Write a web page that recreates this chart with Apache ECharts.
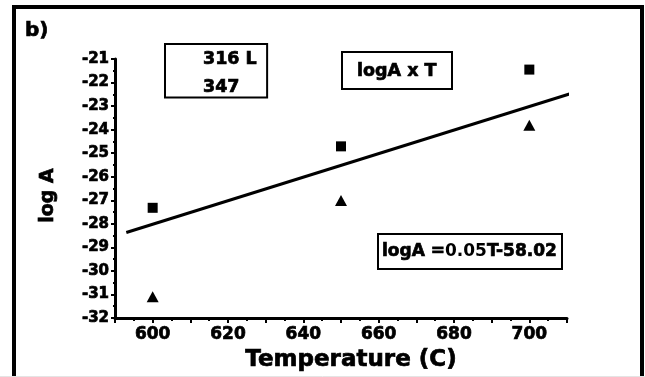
<!DOCTYPE html>
<html>
<head>
<meta charset="utf-8">
<script src="https://cdn.jsdelivr.net/npm/echarts@6/dist/echarts.min.js"></script>
<style>
  html, body { margin: 0; padding: 0; background: #fff; }
  #chart { width: 645px; height: 377px; }
</style>
</head>
<body>
<div id="chart"></div>
<script>
// Temperatures (C) at which the steels were measured
var temperatures = [600, 650, 700];
// log A for each steel grade
var logA316L = [-27.32, -24.71, -21.45];
var logA347 = [-31.10, -27.01, -23.81];
// Linear fit logA = 0.05T - 58.02, drawn between its two end points
var fitT = [593, 711];
var fitLogA = [-28.37, -22.47];
// Tick label values shown on the x axis
var xTickLabels = [600, 620, 640, 660, 680, 700];

var BOLD = 'DejaVu Sans';
// heavy bold text: bold face plus a thin outline of the same colour
function heavy(size, extra) {
  var s = {
    fontFamily: BOLD, fontWeight: 'bold', fontSize: size, color: '#000',
    textBorderColor: '#000', textBorderWidth: 0.7
  };
  if (extra) { for (var k in extra) { s[k] = extra[k]; } }
  return s;
}

function pairs(xs, ys) {
  return xs.map(function (x, i) { return [x, ys[i]]; });
}

var chart = echarts.init(document.getElementById('chart'), null, { renderer: 'canvas' });

chart.setOption({
  backgroundColor: '#ffffff',
  animation: false,
  title: [
    {
      text: 'b)', left: 25, top: 21, padding: 0,
      textStyle: heavy(20)
    },
    {
      text: 'logA x T', left: 342, top: 52,
      padding: [10, 15, 9, 15],
      borderColor: '#000', borderWidth: 2,
      textStyle: heavy(17.5)
    },
    {
      text: '{b|logA =}{n|0.05}{b|T-58.02}', left: 378, top: 234,
      padding: [9, 5, 9, 4],
      borderColor: '#000', borderWidth: 2,
      textStyle: {
        fontSize: 17, color: '#000',
        rich: {
          b: heavy(17),
          n: { fontFamily: BOLD, fontWeight: 'bold', fontSize: 17, color: '#000' }
        }
      }
    }
  ],
  legend: {
    orient: 'vertical',
    left: 165, top: 44,
    padding: [6, 10, 1, 8],
    itemWidth: 25, itemHeight: 16, itemGap: 9,
    borderColor: '#000', borderWidth: 2,
    itemStyle: { opacity: 0 },
    data: ['316 L', '347'],
    textStyle: heavy(17.5, { lineHeight: 16 })
  },
  grid: { left: 115, right: 78, top: 59, bottom: 59, containLabel: false },
  xAxis: {
    type: 'value',
    min: 590, max: 710, interval: 10,
    name: 'Temperature (C)',
    nameLocation: 'middle', nameGap: 29,
    nameTextStyle: heavy(23, { padding: [0, 0, 0, 20] }),
    axisLine: { show: true, lineStyle: { color: '#000', width: 3 } },
    axisTick: { show: true, inside: false, length: 5, lineStyle: { color: '#000', width: 2 } },
    minorTick: { show: true, splitNumber: 2, length: 3, lineStyle: { color: '#000', width: 2 } },
    splitLine: { show: false },
    axisLabel: heavy(17, {
      margin: 8,
      formatter: function (v) { return xTickLabels.indexOf(v) >= 0 ? String(v) : ''; }
    })
  },
  yAxis: {
    type: 'value',
    min: -32, max: -21, interval: 1,
    name: 'log A',
    nameLocation: 'middle', nameGap: 57,
    nameTextStyle: heavy(19, { padding: [0, 14, 0, 0] }),
    axisLine: { show: true, lineStyle: { color: '#000', width: 3 } },
    axisTick: { show: true, inside: false, length: 4, lineStyle: { color: '#000', width: 2 } },
    minorTick: { show: true, splitNumber: 2, length: 2, lineStyle: { color: '#000', width: 2 } },
    splitLine: { show: false },
    axisLabel: heavy(15, { margin: 6 })
  },
  series: [
    {
      name: '316 L', type: 'scatter',
      symbol: 'rect', symbolSize: 10,
      itemStyle: { color: '#000', opacity: 1 },
      data: pairs(temperatures, logA316L)
    },
    {
      name: '347', type: 'scatter',
      symbol: 'triangle', symbolSize: [12, 11],
      itemStyle: { color: '#000', opacity: 1 },
      data: pairs(temperatures, logA347)
    },
    {
      name: 'fit', type: 'line',
      clip: false, showSymbol: false, symbol: 'none',
      lineStyle: { color: '#000', width: 3 },
      data: pairs(fitT, fitLogA)
    }
  ],
  graphic: [
    {
      type: 'rect', silent: true, z: 100,
      shape: { x: 14, y: 7, width: 628, height: 410 },
      style: { fill: null, stroke: '#000', lineWidth: 4 }
    },
    {
      type: 'line', silent: true, z: 100,
      shape: { x1: 0, y1: 376.5, x2: 645, y2: 376.5 },
      style: { stroke: '#e4e4e4', lineWidth: 1 }
    }
  ]
});
</script>
</body>
</html>
